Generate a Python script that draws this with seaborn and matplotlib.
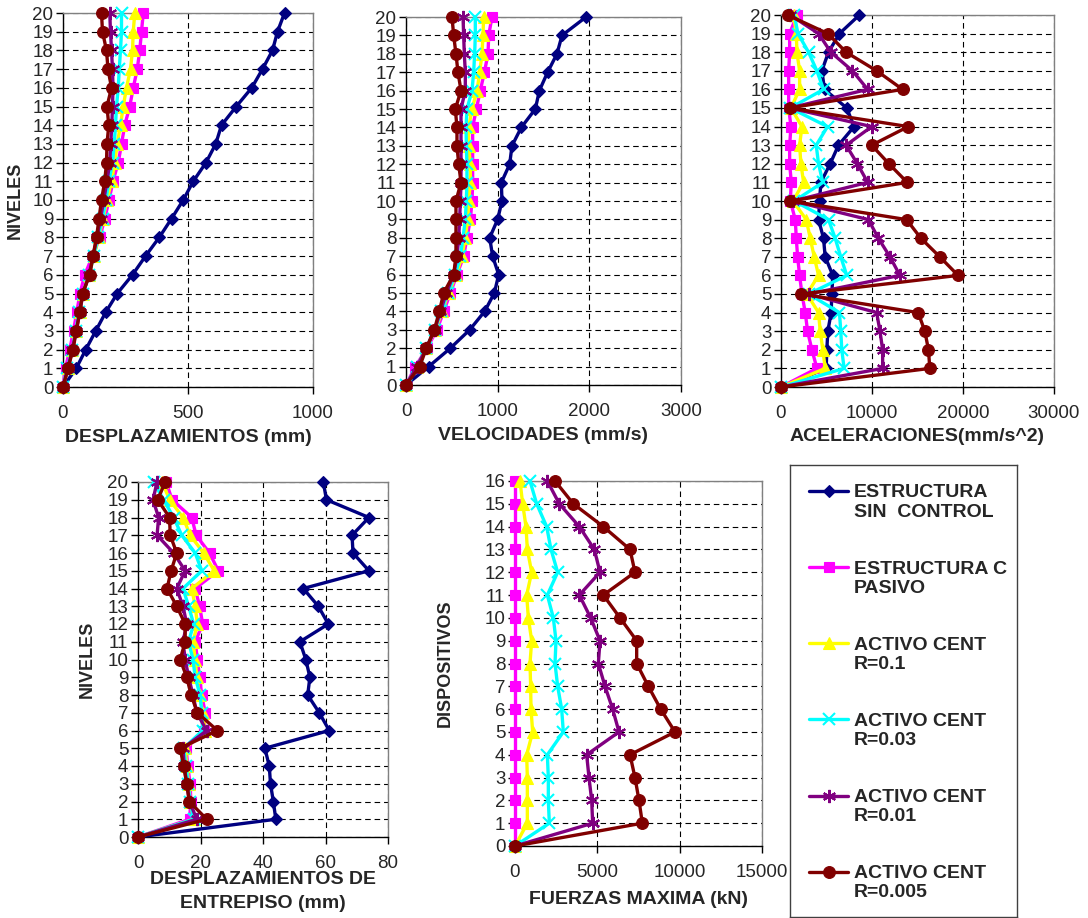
import matplotlib
matplotlib.use("Agg")
import matplotlib.pyplot as plt
from matplotlib.lines import Line2D
import seaborn as sns

sns.set_style("white")
plt.rcParams["font.family"] = ["Liberation Sans", "DejaVu Sans"]

# ---- data -----------------------------------------------------------------
niveles = list(range(21))
dispositivos = list(range(17))

series_names = ["ESTRUCTURA\nSIN  CONTROL", "ESTRUCTURA C\nPASIVO",
                "ACTIVO CENT\nR=0.1", "ACTIVO CENT\nR=0.03",
                "ACTIVO CENT\nR=0.01", "ACTIVO CENT\nR=0.005"]

# Desplazamientos (mm)
desp_sin = [0, 53, 91, 131, 171, 217, 278, 330, 385, 434, 481, 521, 572, 611, 634, 693, 755, 798, 838, 858, 886]
desp_pas = [0, 10, 27, 42, 55, 68, 87, 118, 147, 167, 184, 200, 221, 234, 247, 267, 281, 297, 307, 314, 321]
desp_r01 = [0, 20, 37, 51, 67, 80, 104, 124, 143, 160, 176, 194, 207, 217, 230, 241, 254, 270, 278, 281, 287]
desp_r003 = [0, 17, 37, 51, 64, 80, 104, 123, 140, 158, 171, 184, 198, 205, 210, 214, 221, 225, 230, 234, 234]
desp_r001 = [0, 20, 37, 53, 67, 80, 104, 120, 136, 150, 163, 176, 187, 191, 195, 198, 200, 198, 194, 190, 187]
desp_r0005 = [0, 20, 40, 53, 67, 78, 107, 120, 134, 144, 154, 167, 174, 176, 183, 176, 194, 180, 174, 158, 154]

# Velocidades (mm/s)
vel_sin = [0, 247, 484, 695, 858, 964, 1011, 945, 913, 1000, 1047, 1040, 1131, 1156, 1258, 1411, 1455, 1545, 1647, 1702, 1964]
vel_pas = [0, 102, 229, 338, 411, 484, 556, 629, 665, 702, 720, 727, 727, 727, 727, 767, 811, 855, 895, 902, 938]
vel_r01 = [0, 120, 222, 320, 393, 465, 549, 611, 647, 673, 684, 702, 702, 684, 684, 720, 775, 804, 829, 840, 847]
vel_r003 = [0, 120, 222, 313, 385, 455, 538, 593, 622, 647, 658, 665, 665, 658, 655, 665, 720, 738, 749, 756, 756]
vel_r001 = [0, 120, 222, 313, 375, 440, 520, 556, 575, 585, 593, 600, 600, 600, 600, 600, 647, 647, 636, 629, 622]
vel_r0005 = [0, 149, 222, 309, 364, 411, 520, 545, 545, 545, 545, 600, 575, 556, 556, 538, 600, 567, 545, 520, 502]

# Aceleraciones (mm/s^2)
ace_sin = [0, 4964, 5037, 5147, 5512, 5585, 5694, 4855, 4672, 4125, 4234, 4380, 5402, 6315, 8030, 7227, 4782, 4490, 5220, 6424, 8614]
ace_pas = [0, 3950, 3395, 2920, 2665, 2300, 2044, 1825, 1679, 1570, 1022, 1132, 949, 949, 1095, 840, 840, 840, 949, 949, 1752]
ace_r01 = [0, 4855, 4599, 4307, 4125, 2847, 4125, 3650, 3212, 2774, 1314, 2482, 2190, 2044, 2300, 1095, 2044, 2044, 1752, 1679, 1387]
ace_r003 = [0, 6935, 6680, 6570, 6424, 3030, 7227, 6570, 5950, 5220, 1460, 4599, 4125, 3869, 5110, 1022, 4672, 3942, 3030, 1862, 1460]
ace_r001 = [0, 11169, 11169, 10877, 10512, 3030, 13067, 11972, 10695, 9600, 1314, 9527, 8395, 7154, 9965, 949, 9527, 7848, 5475, 4125, 1022]
ace_r0005 = [0, 16352, 16206, 15805, 15075, 2227, 19455, 17447, 15367, 13797, 1022, 13870, 11863, 9965, 13980, 949, 13359, 10512, 7154, 5147, 730]

# Desplazamientos de entrepiso (mm)
ent_sin = [0, 44.1, 43.3, 42.4, 42.0, 40.6, 61.2, 58.0, 54.3, 55.0, 53.7, 51.8, 60.9, 57.7, 52.9, 73.9, 68.8, 68.5, 73.9, 60.3, 59.3]
ent_pas = [0, 16.5, 16.9, 16.7, 15.9, 15.4, 21.2, 21.5, 20.4, 19.7, 19.0, 18.3, 20.7, 19.7, 18.3, 25.7, 22.9, 18.6, 17.2, 10.9, 9.0]
ent_r01 = [0, 17.8, 16.7, 16.2, 15.6, 15.1, 21.5, 20.7, 19.7, 18.8, 18.3, 17.6, 19.0, 18.3, 17.2, 24.4, 21.0, 16.7, 14.4, 10.1, 7.7]
ent_r003 = [0, 17.8, 16.7, 16.0, 15.4, 14.6, 20.7, 20.4, 19.9, 18.3, 17.6, 16.2, 17.8, 16.2, 14.4, 20.4, 18.3, 14.0, 11.4, 8.2, 5.0]
ent_r001 = [0, 18.8, 16.5, 15.6, 14.8, 14.4, 22.0, 18.8, 17.6, 16.2, 15.1, 14.4, 15.6, 14.4, 12.4, 15.1, 11.4, 6.1, 6.6, 4.8, 6.1]
ent_r0005 = [0, 22.0, 16.4, 15.6, 14.6, 13.5, 25.4, 19.0, 17.0, 15.6, 13.5, 15.1, 15.1, 12.4, 9.3, 10.6, 12.4, 10.3, 10.1, 6.3, 8.7]

# Fuerzas maximas en dispositivos (kN)
fue_pas = [0] * 17
fue_r01 = [0, 749, 749, 749, 709, 1073, 972, 951, 911, 1012, 810, 709, 1012, 749, 668, 466, 304]
fue_r003 = [0, 2085, 2024, 2024, 1964, 2935, 2834, 2591, 2429, 2490, 2328, 1964, 2591, 2186, 1923, 1316, 911]
fue_r001 = [0, 4717, 4656, 4494, 4352, 6316, 5931, 5466, 5061, 5162, 4595, 3907, 5162, 4818, 3907, 2692, 1964]
fue_r0005 = [0, 7733, 7530, 7287, 6984, 9717, 8846, 8097, 7389, 7389, 6377, 5364, 7287, 6984, 5364, 3543, 2429]

# ---- styles ---------------------------------------------------------------
STYLES = [
    dict(color="#000080", marker="D", markersize=6.3),
    dict(color="#FF00FF", marker="s", markersize=7.3),
    dict(color="#FFFF00", marker="^", markersize=9.0),
    dict(color="#00FFFF", marker="x", markersize=8.5, markeredgewidth=1.5),
    dict(color="#800080", marker=(6, 2, 0), markersize=9.5, markeredgewidth=1.5),
    dict(color="#800000", marker="o", markersize=8.5),
]

W, H = 1088, 918
fig = plt.figure(figsize=(W / 100, H / 100), dpi=100)


def px_axes(left, top, right, bottom):
    return fig.add_axes([left / W, 1 - bottom / H, (right - left) / W, (bottom - top) / H])


TICK_FS = 13.5
LABEL_FS = 14


def draw_panel(ax, series, levels, style_idx, xmax, xstep, ylab, xlab, xpad, ypad_lab):
    for vals, si in zip(series, style_idx):
        st = dict(STYLES[si])
        st.setdefault("markeredgewidth", 0.8)
        sns.lineplot(x=vals, y=levels, sort=False, estimator=None, ax=ax,
                     linewidth=2.4, markeredgecolor=st["color"], clip_on=False,
                     zorder=3 + si, **st)
    ax.set_xlim(0, xmax)
    ax.set_ylim(0, levels[-1])
    ax.set_xticks(list(range(0, xmax + 1, xstep)))
    ax.set_yticks(levels)
    ax.tick_params(axis="x", direction="out", length=5, width=1, pad=8,
                   labelsize=TICK_FS, bottom=True, color="black")
    ax.tick_params(axis="y", direction="out", length=5, width=1, pad=2,
                   labelsize=TICK_FS, left=True, color="black")
    ax.grid(True, color="black", linestyle=(0, (5, 3.5)), linewidth=0.8)
    ax.set_axisbelow(True)
    for side in ("left", "bottom"):
        ax.spines[side].set_color("black")
        ax.spines[side].set_linewidth(1.0)
    for side in ("top", "right"):
        ax.spines[side].set_color("#808080")
        ax.spines[side].set_linewidth(1.0)
    ax.set_xlabel(xlab, fontsize=LABEL_FS, fontweight="bold", labelpad=xpad,
                  linespacing=1.6)
    if ylab:
        ax.set_ylabel(ylab, fontsize=LABEL_FS - 1, fontweight="bold", labelpad=ypad_lab)
    else:
        ax.set_ylabel("")


ax1 = px_axes(63, 13, 313, 387)
draw_panel(ax1, [desp_sin, desp_pas, desp_r01, desp_r003, desp_r001, desp_r0005], niveles,
           range(6), 1000, 500, "NIVELES", "DESPLAZAMIENTOS (mm)", 5, 6)

ax2 = px_axes(406, 17, 681, 385)
draw_panel(ax2, [vel_sin, vel_pas, vel_r01, vel_r003, vel_r001, vel_r0005], niveles,
           range(6), 3000, 1000, None, "VELOCIDADES (mm/s)", 5, 0)

ax3 = px_axes(781, 15, 1054, 387)
draw_panel(ax3, [ace_sin, ace_pas, ace_r01, ace_r003, ace_r001, ace_r0005], niveles,
           range(6), 30000, 10000, None, "ACELERACIONES(mm/s^2)", 4, 0)

ax4 = px_axes(138, 482, 388, 837)
draw_panel(ax4, [ent_sin, ent_pas, ent_r01, ent_r003, ent_r001, ent_r0005], niveles,
           range(6), 80, 20, "NIVELES", "DESPLAZAMIENTOS DE\nENTREPISO (mm)", -1, 8)

ax5 = px_axes(515, 481, 762, 846)
draw_panel(ax5, [fue_pas, fue_r01, fue_r003, fue_r001, fue_r0005], dispositivos,
           range(1, 6), 15000, 5000, "DISPOSITIVOS", "FUERZAS MAXIMA (kN)", 7, 22)

# ---- legend box -----------------------------------------------------------
lax = px_axes(790, 465, 1017, 917)
lax.set_xticks([])
lax.set_yticks([])
for sp in lax.spines.values():
    sp.set_color("#404040")
    sp.set_linewidth(1.0)

handles = []
for st in STYLES:
    s = dict(st)
    s.setdefault("markeredgewidth", 0.8)
    handles.append(Line2D([], [], linewidth=2.4, markeredgecolor=s["color"], **s))

leg = lax.legend(handles, series_names, loc="upper left", bbox_to_anchor=(0.0, 1.0),
                 frameon=False, prop=dict(size=14, weight="bold"),
                 handlelength=2.0, handletextpad=0.3, labelspacing=2.03,
                 borderaxespad=0.3, borderpad=0.7)
for col in leg._legend_handle_box.get_children():
    for item in col.get_children():
        item.align = "top"

fig.savefig("out.png", dpi=100)
